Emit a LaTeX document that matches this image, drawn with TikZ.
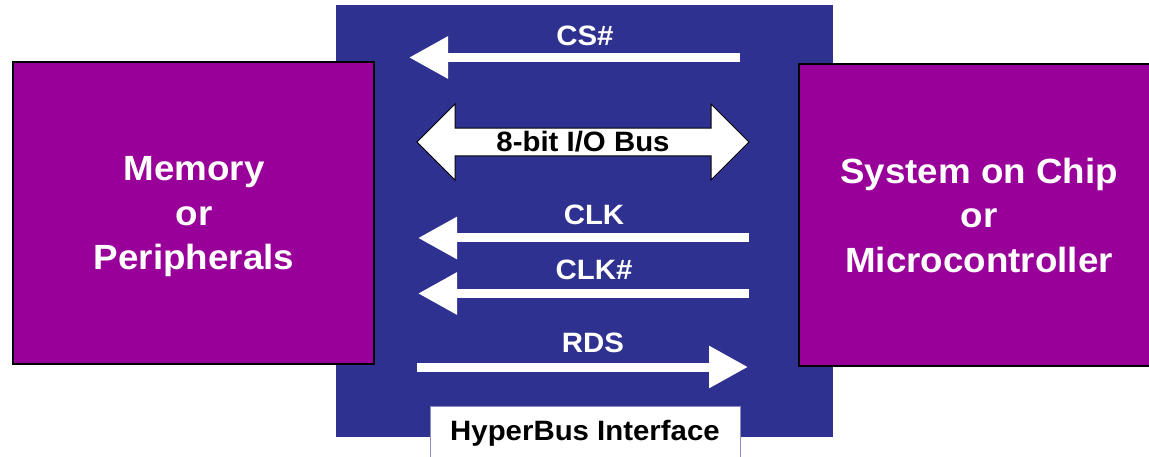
\documentclass[tikz,border=0pt]{standalone}
\usepackage{fontspec}
\setmainfont{Liberation Sans}[FakeStretch=1.05]
\usetikzlibrary{arrows.meta,shapes.arrows}

\definecolor{busblue}{HTML}{2E3190}
\definecolor{chippurple}{HTML}{990099}

\begin{document}
\begin{tikzpicture}[x=1pt,y=-1pt,
    sig/.style={white,line width=9pt,-{Triangle[length=39pt,width=40pt]}},
    siglabel/.style={text=white,inner sep=0pt,font=\fontsize{28}{32}\selectfont\bfseries},
    blocklabel/.style={text=white,inner sep=0pt,align=center,font=\fontsize{35}{44.5}\selectfont\bfseries}]

    \useasboundingbox (0,0) rectangle (1149,457);

    % Interface body
    \fill[busblue] (336,5) rectangle (833,437);

    % Memory side
    \draw[fill=chippurple,line width=2pt] (13,62) rectangle (374,364);
    \node[blocklabel] (mem) at (194,217) {Memory\\or\\Peripherals};

    % Controller side (runs off the right edge)
    \fill[chippurple] (799,64) rectangle (1149,366);
    \draw[line width=2pt] (1149,64) -- (799,64) -- (799,366) -- (1149,366);
    \node[blocklabel] (soc) at (979,215) {System on Chip\\or\\Microcontroller};

    % Chip select
    \node[siglabel] (cslbl) at (585,36) {CS\#};
    \coordinate (csR) at (740,57.5);
    \coordinate (csL) at (409,57.5);
    \draw[sig] (csR) -- (csL);

    % Data bus
    \node[double arrow,draw=black,fill=white,line width=1pt,
          minimum height=332pt,minimum width=76pt,double arrow head extend=19pt,
          inner sep=0pt,font=\fontsize{28}{32}\selectfont\bfseries] (bus) at (583,142) {\raisebox{-2pt}{8-bit I/O Bus}};

    % Clocks
    \node[siglabel] (clklbl) at (594,215) {CLK};
    \coordinate (clkR) at (749,238);
    \coordinate (clkL) at (418,238);
    \draw[sig] (clkR) -- (clkL);

    \node[siglabel] (clknlbl) at (594,270) {CLK\#};
    \coordinate (clknR) at (749,293.5);
    \coordinate (clknL) at (418,293.5);
    \draw[sig] (clknR) -- (clknL);

    % Read data strobe
    \node[siglabel] (rdslbl) at (593,343) {RDS};
    \coordinate (rdsL) at (417,367);
    \coordinate (rdsR) at (748,367);
    \draw[sig] (rdsL) -- (rdsR);

    % Interface tag
    \draw[fill=white,draw=busblue!55,line width=1pt] (430.5,406) rectangle (740.5,475);
    \node[inner sep=0pt,font=\fontsize{28}{32}\selectfont\bfseries] (tag) at (585,433) {HyperBus Interface};
\end{tikzpicture}
\end{document}
